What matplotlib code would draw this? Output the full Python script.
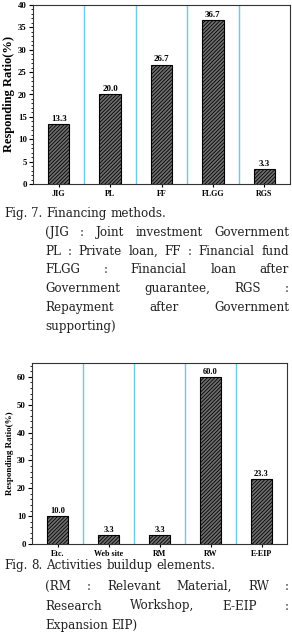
import matplotlib
matplotlib.use("Agg")
import matplotlib.pyplot as plt
from matplotlib.ticker import MultipleLocator

plt.rcParams['font.family'] = ['Liberation Serif', 'DejaVu Serif']
plt.rcParams['hatch.color'] = '#2e2e2e'
plt.rcParams['hatch.linewidth'] = 0.6

# data
fin_labels = ["JIG", "PL", "FF", "FLGG", "RGS"]
fin_values = [13.3, 20.0, 26.7, 36.7, 3.3]

act_labels = ["Etc.", "Web site", "RM", "RW", "E-EIP"]
act_values = [10.0, 3.3, 3.3, 60.0, 23.3]

cap7_title = "Fig. 7. Financing methods."
cap7_lines = ["(JIG : Joint investment Government",
              "PL : Private loan, FF : Financial fund",
              "FLGG : Financial loan after",
              "Government guarantee, RGS :",
              "Repayment after Government",
              "supporting)"]
cap8_title = "Fig. 8. Activities buildup elements."
cap8_lines = ["(RM : Relevant Material, RW :",
              "Research Workshop, E-EIP :",
              "Expansion EIP)"]

W, H = 292, 635
fig = plt.figure(figsize=(W / 100, H / 100), dpi=100)


def px_axes(l, t, r, b):
    return fig.add_axes([l / W, 1 - b / H, (r - l) / W, (b - t) / H])


def bar_chart(ax, labels, values, ymax, major, minor, vfs, yfs):
    x = list(range(len(labels)))
    ax.bar(x, values, width=0.42, color='#6e6e6e', edgecolor='black',
           linewidth=0.8, hatch='/////////', zorder=3)
    for xi, v in zip(x, values):
        ax.text(xi, v + ymax * 0.006, f"{v:.1f}", ha='center', va='bottom',
                fontsize=vfs, fontweight='bold')
    for s in range(len(labels) - 1):
        ax.axvline(s + 0.5, color='#6ccbe2', lw=1.0, zorder=1)
    ax.set_xlim(-0.5, len(labels) - 0.5)
    ax.set_ylim(0, ymax)
    ax.set_xticks(x)
    ax.set_xticklabels(labels, fontsize=5.8, fontweight='bold')
    ax.yaxis.set_major_locator(MultipleLocator(major))
    ax.yaxis.set_minor_locator(MultipleLocator(minor))
    ax.tick_params(axis='y', labelsize=6.3, width=0.8, length=3, pad=1.5)
    ax.tick_params(axis='y', which='minor', length=1.5, width=0.6)
    ax.tick_params(axis='x', length=2, width=0.8, pad=2)
    for lab in ax.get_yticklabels():
        lab.set_fontweight('bold')
    ax.set_ylabel("Responding Ratio(%)", fontsize=yfs, fontweight='bold',
                  labelpad=2)
    for sp in ax.spines.values():
        sp.set_linewidth(0.8)
        sp.set_color('#333333')


ax1 = px_axes(33, 5, 290, 184)
bar_chart(ax1, fin_labels, fin_values, 40, 5, 1, 6.5, 9.0)
ax2 = px_axes(32, 363, 287, 544)
bar_chart(ax2, act_labels, act_values, 65, 10, 2, 6.0, 6.5)

renderer = fig.canvas.get_renderer()
CAP_FONT = 'DejaVu Serif'
FS = 8.6


def justified(line, y, x0, x1, last=False):
    words = line.split()
    texts = [fig.text(0, 1 - y / H, w, fontsize=FS, va='baseline',
                      family=CAP_FONT, color='#222222') for w in words]
    widths = [t.get_window_extent(renderer).width for t in texts]
    if last or len(words) == 1:
        gap = FS * 0.45
    else:
        gap = (x1 - x0 - sum(widths)) / (len(words) - 1)
    x = x0
    for t, w in zip(texts, widths):
        t.set_x(x / W)
        x += w + gap


def caption(title, lines, ytitle, y0, step):
    justified(title, ytitle, 4, 290, last=True)
    for i, line in enumerate(lines):
        justified(line, y0 + i * step, 45, 289, last=(i == len(lines) - 1))


caption(cap7_title, cap7_lines, 217, 236, 18.7)
caption(cap8_title, cap8_lines, 569, 590, 19.5)

fig.savefig("out.png", dpi=100)
